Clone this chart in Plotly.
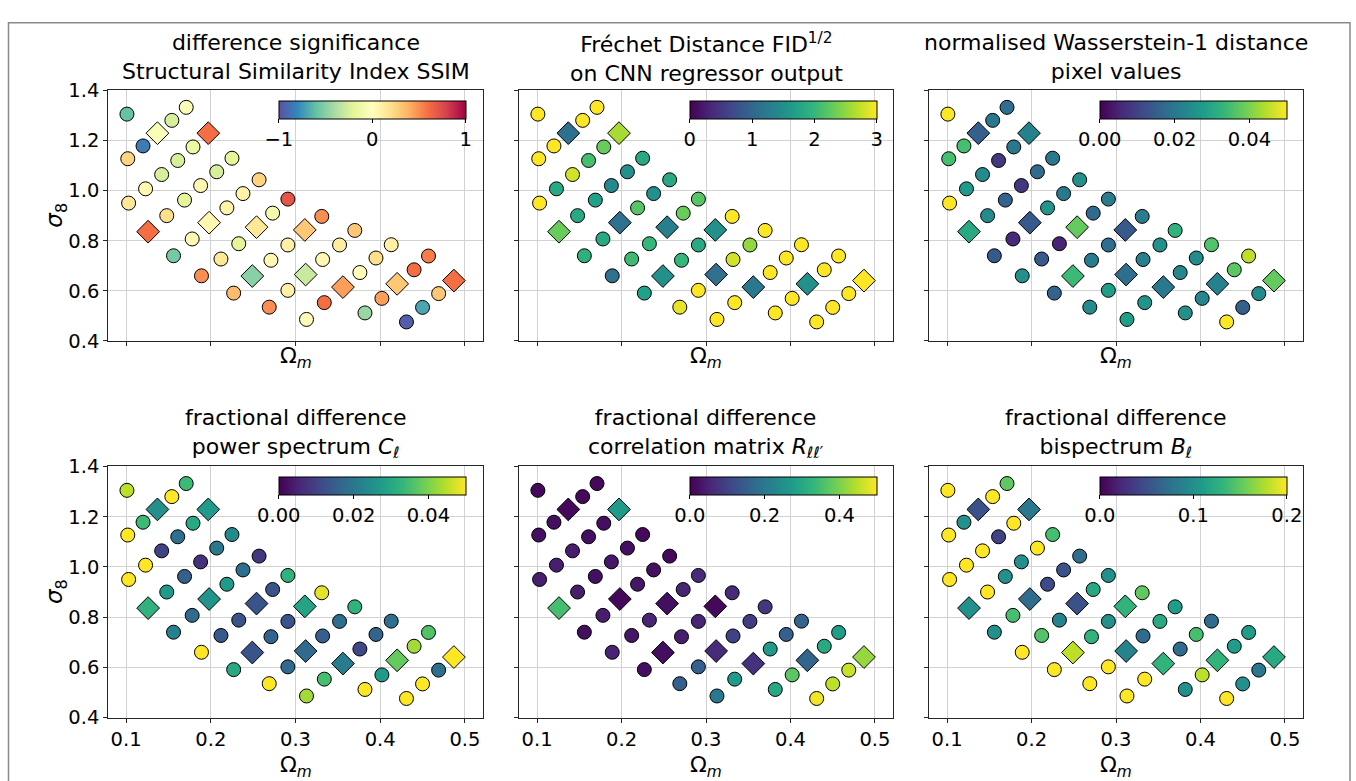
import plotly.graph_objects as go

# ---------------- data ----------------
# circle points (Omega_m, sigma_8)
circ_om = [0.101, 0.154, 0.171, 0.120, 0.102, 0.179, 0.161, 0.142, 0.123, 0.103,
           0.225, 0.207, 0.188, 0.169, 0.148, 0.257, 0.238, 0.219, 0.291, 0.273,
           0.331, 0.178, 0.156, 0.233, 0.212, 0.189, 0.291, 0.271, 0.227, 0.370,
           0.352, 0.332, 0.291, 0.269, 0.413, 0.395, 0.376, 0.334, 0.313, 0.457,
           0.440, 0.402, 0.382, 0.469, 0.450, 0.431]
circ_s8 = [1.305, 1.280, 1.332, 1.178, 1.127, 1.174, 1.120, 1.064, 1.007, 0.950,
           1.129, 1.075, 1.020, 0.962, 0.900, 1.043, 0.988, 0.931, 0.966, 0.910,
           0.897, 0.807, 0.740, 0.788, 0.727, 0.660, 0.783, 0.722, 0.591, 0.841,
           0.783, 0.725, 0.602, 0.535, 0.784, 0.731, 0.673, 0.553, 0.486, 0.739,
           0.684, 0.570, 0.512, 0.589, 0.534, 0.476]
# diamond points (Omega_m, sigma_8)
diam_om = [0.137, 0.197, 0.126, 0.198, 0.254, 0.311, 0.249, 0.312, 0.356, 0.420, 0.487]
diam_s8 = [1.229, 1.229, 0.836, 0.872, 0.854, 0.843, 0.659, 0.665, 0.615, 0.628, 0.641]

# panel values: circles then diamonds
ssim_c = [-0.6, -0.25, -0.05, -0.85, 0.25, -0.15, -0.25, -0.25, 0.05, 0.15,
          -0.2, -0.25, 0.05, -0.2, 0.2, 0.25, 0.08, 0.08, 0.7, -0.1,
          0.5, 0.05, -0.55, -0.2, 0.15, 0.5, 0.1, 0.05, 0.35, 0.3,
          0.12, 0.05, 0.1, 0.5, 0.1, 0.2, 0.02, 0.6, 0.02, 0.55,
          0.6, 0.45, -0.45, 0.3, -0.7, -0.95]
ssim_d = [-0.05, 0.6, 0.6, 0.05, 0.15, 0.3, -0.5, -0.3, 0.45, 0.3, 0.6]

fid_c = [3, 3, 3, 3, 3, 2.3, 2.1, 2.8, 1.8, 3,
         1.8, 1.5, 1.4, 1.7, 1.8, 1.8, 1.5, 2.2, 2.2, 2.3,
         3, 1.8, 1.9, 2.0, 2.05, 1.1, 1.8, 2.0, 1.7, 3,
         2.5, 2.8, 3, 2.9, 3, 3, 3, 3, 3, 3,
         3, 3, 3, 3, 3, 3]
fid_d = [1.1, 2.6, 2.3, 1.1, 1.3, 1.5, 1.5, 1.1, 1.2, 1.5, 3]

wass_c = [0.05, 0.02, 0.018, 0.035, 0.035, 0.02, 0.008, 0.024, 0.027, 0.05,
          0.02, 0.017, 0.008, 0.016, 0.024, 0.025, 0.02, 0.026, 0.021, 0.017,
          0.021, 0.006, 0.014, 0.005, 0.014, 0.025, 0.018, 0.021, 0.016, 0.032,
          0.025, 0.022, 0.028, 0.024, 0.036, 0.024, 0.023, 0.026, 0.028, 0.045,
          0.037, 0.023, 0.025, 0.024, 0.015, 0.05]
wass_d = [0.015, 0.022, 0.03, 0.014, 0.038, 0.014, 0.034, 0.018, 0.02, 0.022, 0.038]

cl_c = [0.045, 0.05, 0.034, 0.034, 0.05, 0.03, 0.018, 0.01, 0.05, 0.05,
        0.024, 0.02, 0.007, 0.015, 0.027, 0.008, 0.018, 0.027, 0.032, 0.013,
        0.048, 0.017, 0.022, 0.013, 0.014, 0.05, 0.013, 0.016, 0.03, 0.032,
        0.018, 0.015, 0.017, 0.05, 0.018, 0.016, 0.011, 0.035, 0.043, 0.036,
        0.043, 0.027, 0.05, 0.018, 0.05, 0.05]
cl_d = [0.025, 0.027, 0.032, 0.026, 0.013, 0.029, 0.013, 0.017, 0.021, 0.038, 0.05]

rll_c = [0.01, 0.01, 0.01, 0.02, 0.02, 0.02, 0.02, 0.04, 0.04, 0.04,
         0.01, 0.02, 0.03, 0.02, 0.04, 0.01, 0.02, 0.03, 0.06, 0.05,
         0.06, 0.04, 0.02, 0.05, 0.03, 0.05, 0.05, 0.04, 0.02, 0.08,
         0.09, 0.1, 0.15, 0.15, 0.16, 0.15, 0.27, 0.27, 0.2, 0.28,
         0.3, 0.37, 0.3, 0.46, 0.45, 0.49]
rll_d = [0.01, 0.27, 0.35, 0.01, 0.02, 0.01, 0.02, 0.06, 0.07, 0.16, 0.42]

bl_c = [0.2, 0.2, 0.15, 0.1, 0.2, 0.2, 0.04, 0.2, 0.2, 0.2,
        0.14, 0.2, 0.1, 0.1, 0.2, 0.07, 0.05, 0.045, 0.1, 0.12,
        0.15, 0.14, 0.1, 0.09, 0.145, 0.2, 0.1, 0.13, 0.2, 0.11,
        0.12, 0.07, 0.2, 0.2, 0.07, 0.14, 0.07, 0.2, 0.2, 0.11,
        0.11, 0.18, 0.1, 0.08, 0.1, 0.2]
bl_d = [0.05, 0.08, 0.1, 0.07, 0.05, 0.13, 0.18, 0.09, 0.13, 0.13, 0.12]

title_line1 = ["difference significance", "Fréchet Distance FID<sup>1/2</sup>",
               "normalised Wasserstein-1 distance", "fractional difference",
               "fractional difference", "fractional difference"]
title_line2 = ["Structural Similarity Index SSIM", "on CNN regressor output",
               "pixel values", "power spectrum <i>C</i><sub>ℓ</sub>",
               "correlation matrix <i>R</i><sub>ℓℓ′</sub>", "bispectrum <i>B</i><sub>ℓ</sub>"]
panel_circ = [ssim_c, fid_c, wass_c, cl_c, rll_c, bl_c]
panel_diam = [ssim_d, fid_d, wass_d, cl_d, rll_d, bl_d]
cranges = [(-1, 1), (0, 3), (0, 0.05), (0, 0.05), (0, 0.5), (0, 0.2)]
cticks = [[-1, 0, 1], [0, 1, 2, 3], [0, 0.02, 0.04], [0, 0.02, 0.04], [0, 0.2, 0.4], [0, 0.1, 0.2]]
cticktext = [["−1", "0", "1"], ["0", "1", "2", "3"], ["0.00", "0.02", "0.04"],
             ["0.00", "0.02", "0.04"], ["0.0", "0.2", "0.4"], ["0.0", "0.1", "0.2"]]
cscales = ["Spectral_r", "Viridis", "Viridis", "Viridis", "Viridis", "Viridis"]

xticks = [0.1, 0.2, 0.3, 0.4, 0.5]
yticks = [0.4, 0.6, 0.8, 1.0, 1.2, 1.4]

# ---------------- layout geometry ----------------
W, H = 1356, 781
xpix = [(108.3, 482.7), (519.3, 892.7), (929.3, 1302.7)]
ypix = [(81.7, 340.0), (469.3, 728.0)]
FONT = "DejaVu Sans"
TICK = 19.5
TITLE = 22

fig = go.Figure()
layout = dict(
    width=W, height=H, margin=dict(l=0, r=0, t=0, b=0),
    paper_bgcolor="white", plot_bgcolor="white", showlegend=False,
    font=dict(family=FONT, color="black", size=TICK),
    annotations=[], shapes=[],
)


def ann(text, xp, yp, size, angle=0):
    return dict(text=text, x=xp / W, y=1 - yp / H, xref="paper", yref="paper",
                xanchor="center", yanchor="middle", showarrow=False, textangle=angle,
                font=dict(size=size, family=FONT, color="black"))


for i in range(6):
    r, c = divmod(i, 3)
    k = "" if i == 0 else str(i + 1)
    x0, x1 = xpix[c]
    y0, y1 = ypix[r]
    xd = [x0 / W, x1 / W]
    yd = [1 - y1 / H, 1 - y0 / H]
    axcommon = dict(showgrid=True, gridcolor="#d2d2d2", gridwidth=1, zeroline=False,
                    showline=True, linecolor="#262626", linewidth=1.2, mirror=True,
                    ticks="outside", ticklen=4, tickcolor="#262626",
                    tickfont=dict(size=TICK, family=FONT, color="black"))
    layout["xaxis" + k] = dict(domain=xd, range=[0.079, 0.521], tickvals=xticks,
                               tickformat=".1f", showticklabels=(r == 1),
                               anchor="y" + k, **axcommon)
    layout["yaxis" + k] = dict(domain=yd, range=[0.4, 1.4], tickvals=yticks,
                               tickformat=".1f", showticklabels=(c == 0),
                               anchor="x" + k, **axcommon)
    cmin, cmax = cranges[i]
    layout["coloraxis" + k] = dict(
        colorscale=cscales[i], cmin=cmin, cmax=cmax,
        colorbar=dict(orientation="h", x=(x0 + 170.5) / W, xanchor="left",
                      y=1 - (y0 + 11) / H, yanchor="top",
                      len=187, lenmode="pixels", thickness=18,
                      xpad=0, ypad=0, outlinewidth=1, outlinecolor="black",
                      ticks="outside", ticklen=4, tickcolor="black",
                      tickvals=cticks[i], ticktext=cticktext[i],
                      tickfont=dict(size=TICK, family=FONT, color="black")))
    fig.add_trace(go.Scatter(
        x=circ_om, y=circ_s8, mode="markers", xaxis="x" + k, yaxis="y" + k,
        marker=dict(symbol="circle", size=14, color=panel_circ[i],
                    coloraxis="coloraxis" + k, line=dict(color="black", width=1))))
    fig.add_trace(go.Scatter(
        x=diam_om, y=diam_s8, mode="markers", xaxis="x" + k, yaxis="y" + k,
        marker=dict(symbol="diamond", size=17.5, color=panel_diam[i],
                    coloraxis="coloraxis" + k, line=dict(color="black", width=1))))
    cx = (x0 + x1) / 2
    # two-line title
    layout["annotations"].append(ann(title_line1[i] + "<br>" + title_line2[i],
                                     cx, y0 - 34, TITLE))
    # x label
    xl_y = 357 if r == 0 else 778
    layout["annotations"].append(ann("Ω<sub><i>m</i></sub>", cx, xl_y, 22))
    if c == 0:
        layout["annotations"].append(ann("<i>σ</i><sub>8</sub>", 56, (y0 + y1) / 2, 23, -90))

layout["shapes"].append(dict(type="rect", xref="paper", yref="paper",
                             x0=8.5 / W, x1=1350 / W, y0=-0.05, y1=1 - 12 / H,
                             line=dict(color="#8a8a8a", width=1.5)))

fig.update_layout(**layout)
fig.write_html("out.html")
